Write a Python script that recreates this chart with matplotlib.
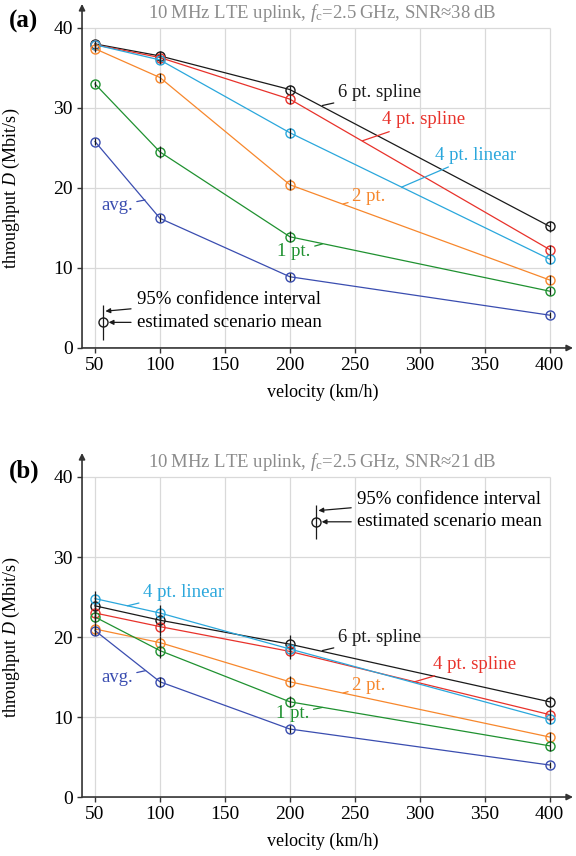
"""Throughput vs. velocity for different channel interpolation schemes (LTE uplink)."""

import numpy as np
import matplotlib
matplotlib.use("Agg")
import matplotlib.pyplot as plt

velocity = [50, 100, 200, 400]
schemes = ["6 pt. spline", "4 pt. spline", "4 pt. linear", "2 pt.", "1 pt.", "avg."]
colors = ["#1a1a1a", "#e8322b", "#2aa7dc", "#f7872c", "#1f9130", "#3a4db0"]

# panel (a): SNR ~ 38 dB
thr_a = {
    "6 pt. spline": [38.0, 36.5, 32.3, 15.2],
    "4 pt. spline": [37.9, 36.3, 31.1, 12.3],
    "4 pt. linear": [37.9, 36.0, 26.9, 11.1],
    "2 pt.": [37.4, 33.8, 20.4, 8.5],
    "1 pt.": [33.0, 24.5, 13.9, 7.1],
    "avg.": [25.8, 16.2, 8.9, 4.1],
}
ci_a = {
    "6 pt. spline": [0.4, 0.6, 0.6, 0.7],
    "4 pt. spline": [0.4, 0.5, 0.6, 0.6],
    "4 pt. linear": [0.4, 0.5, 0.6, 0.6],
    "2 pt.": [0.4, 0.6, 0.7, 0.6],
    "1 pt.": [0.4, 0.7, 0.7, 0.5],
    "avg.": [0.4, 0.5, 0.5, 0.4],
}

# panel (b): SNR ~ 21 dB
thr_b = {
    "6 pt. spline": [23.9, 22.1, 19.1, 11.9],
    "4 pt. spline": [23.0, 21.3, 18.2, 10.3],
    "4 pt. linear": [24.8, 23.0, 18.5, 9.7],
    "2 pt.": [21.0, 19.3, 14.4, 7.5],
    "1 pt.": [22.5, 18.3, 11.9, 6.4],
    "avg.": [20.8, 14.4, 8.5, 4.0],
}
ci_b = {
    "6 pt. spline": [1.5, 1.4, 1.1, 0.7],
    "4 pt. spline": [1.2, 1.2, 1.0, 0.8],
    "4 pt. linear": [1.0, 1.0, 0.8, 0.6],
    "2 pt.": [0.8, 0.8, 0.7, 0.6],
    "1 pt.": [0.8, 0.9, 0.7, 0.6],
    "avg.": [0.6, 0.6, 0.5, 0.4],
}

# curve labels: (text pos, leader end on curve, horizontal alignment)
labels_a = {
    "6 pt. spline": ((237, 31.9), (225, 30.3), "left"),
    "4 pt. spline": ((271, 28.5), (256, 25.9), "left"),
    "4 pt. linear": ((312, 24.1), (286, 20.1), "left"),
    "2 pt.": ((248, 18.9), (241, 18.0), "left"),
    "1 pt.": ((216, 12.0), (225, 13.0), "right"),
    "avg.": ((79, 17.8), (88.5, 18.5), "right"),
}
labels_b = {
    "6 pt. spline": ((237, 20.0), (225, 18.3), "left"),
    "4 pt. spline": ((310, 16.6), (296, 14.4), "left"),
    "4 pt. linear": ((87, 25.6), (75, 23.9), "left"),
    "2 pt.": ((248, 13.9), (241, 13.0), "left"),
    "1 pt.": ((215, 10.4), (225, 11.2), "right"),
    "avg.": ((79, 15.0), (89, 15.8), "right"),
}

XTICKS = [50, 100, 150, 200, 250, 300, 350, 400]
YTICKS = [0, 10, 20, 30, 40]

plt.rcParams.update({
    "font.family": "serif",
    "font.serif": ["Liberation Serif", "DejaVu Serif"],
    "mathtext.fontset": "custom",
    "mathtext.rm": "Liberation Serif",
    "mathtext.it": "Liberation Serif:italic",
    "font.size": 13,
})

fig = plt.figure(figsize=(5.76, 8.56), dpi=100)
ax_a = fig.add_axes([0.1424, 0.5935, 0.8524, 0.4019])
ax_b = fig.add_axes([0.1424, 0.0689, 0.8524, 0.4019])


def draw_panel(ax, thr, ci, labels, snr, key_pos, tag):
    ax.set_xlim(40, 418)
    ax.set_ylim(0, 43)
    for s in ax.spines.values():
        s.set_visible(False)

    # grid box
    ax.hlines(YTICKS[1:], 40, 400, color="#d9d9d9", lw=0.9, zorder=0)
    ax.vlines(XTICKS, 0, 40, color="#d9d9d9", lw=0.9, zorder=0)

    # axes with arrow heads
    ax.annotate("", xy=(1, 0), xytext=(0, 0), xycoords="axes fraction",
                arrowprops=dict(arrowstyle="-|>", color="#333333", lw=1.2,
                                mutation_scale=9, shrinkA=0, shrinkB=0))
    ax.annotate("", xy=(0, 1), xytext=(0, 0), xycoords="axes fraction",
                arrowprops=dict(arrowstyle="-|>", color="#333333", lw=1.2,
                                mutation_scale=9, shrinkA=0, shrinkB=0))

    for name, col in zip(schemes, colors):
        ax.plot(velocity, thr[name], color=col, lw=0.9, marker="o", ms=6.5,
                mfc="none", mec=col, mew=1.0, zorder=3)
        ax.errorbar(velocity, thr[name], yerr=ci[name], fmt="none",
                    ecolor="#1a1a1a", elinewidth=0.9, capsize=0, zorder=4)
        (tx, ty), (lx, ly), ha = labels[name]
        ax.annotate(name, xy=(lx, ly), xytext=(tx, ty), color=col,
                    fontsize=13.5, ha=ha, va="center",
                    arrowprops=dict(arrowstyle="-", color=col, lw=0.9,
                                    shrinkA=1, shrinkB=0))

    # key for mean / confidence interval
    kx, ky, kerr, koff = key_pos
    ax.errorbar([kx], [ky], yerr=[kerr], fmt="o", ms=6.5, mfc="none",
                mec="#1a1a1a", mew=1.0, ecolor="#1a1a1a", elinewidth=0.9,
                capsize=0)
    ax.annotate("95% confidence interval", xy=(kx + 2, ky + 1.4),
                xytext=(kx + koff, ky + 2.8), fontsize=13.5, va="center",
                arrowprops=dict(arrowstyle="-|>", color="#1a1a1a", lw=0.9,
                                mutation_scale=7, shrinkA=2, shrinkB=0))
    ax.annotate("estimated scenario mean", xy=(kx + 4.5, ky),
                xytext=(kx + koff, ky), fontsize=13.5, va="center",
                arrowprops=dict(arrowstyle="-|>", color="#1a1a1a", lw=0.9,
                                mutation_scale=7, shrinkA=2, shrinkB=0))

    ax.set_xticks(XTICKS)
    ax.set_yticks(YTICKS)
    ax.tick_params(direction="out", length=3.5, width=1.0, color="#333333",
                   labelsize=14, pad=3)
    ax.set_xlabel("velocity (km/h)", fontsize=13)
    ax.xaxis.set_label_coords(0.49, -0.105)
    ax.set_ylabel("throughput $D$ (Mbit/s)", fontsize=13)
    ax.yaxis.set_label_coords(-0.122, 0.465)
    ax.text(0.49, 0.975, "10\u2009MHz LTE uplink, $f_\\mathrm{c}$=2.5\u2009GHz, "
            "SNR\u2248" + snr + "\u2009dB", transform=ax.transAxes,
            ha="center", va="center", color="#8c8c8c", fontsize=13.5)
    ax.text(-0.15, 0.948, tag, transform=ax.transAxes, ha="left",
            va="center", fontsize=18, fontweight="bold")


draw_panel(ax_a, thr_a, ci_a, labels_a, "38", (56, 3.2, 2.2, 26), "(a)")
draw_panel(ax_b, thr_b, ci_b, labels_b, "21", (220, 34.4, 2.1, 31.5), "(b)")

fig.savefig("out.png", dpi=100, facecolor="white")
